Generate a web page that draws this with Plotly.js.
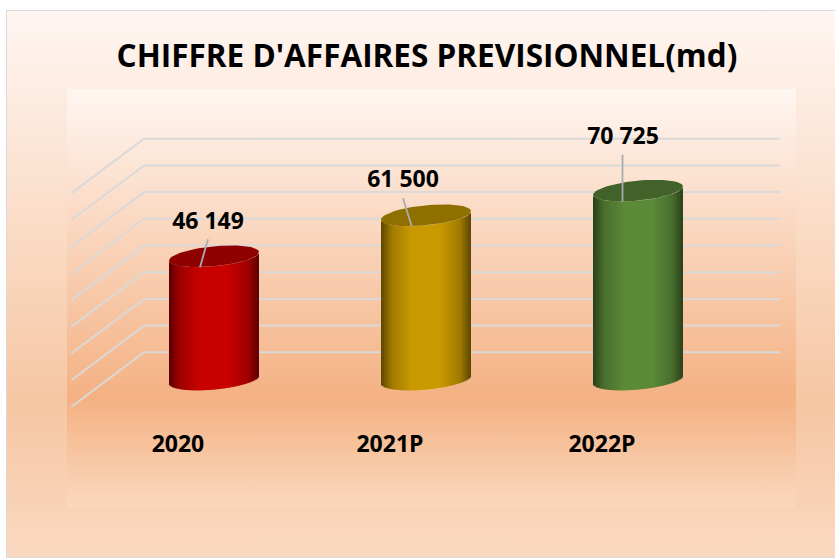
<!DOCTYPE html>
<html>
<head>
<meta charset="utf-8">
<script src="https://cdn.plot.ly/plotly-3.0.1.min.js"></script>
<style>
html,body{margin:0;padding:0;background:#fff;overflow:hidden;width:835px;height:559px}
#frame{position:absolute;left:6px;top:10px;width:835px;height:546px;border:1px solid #d9d9d9;
background:linear-gradient(180deg,#fff6f2 0%,#f6c6a2 72%,#fad9c1 100%)}
#panel{position:absolute;left:67px;top:89px;width:729px;height:418px;
background:linear-gradient(180deg,#fff6f1 0%,#f4b183 74%,#fad8bd 100%)}
#chart{position:absolute;left:0;top:0;width:835px;height:559px}
</style>
</head>
<body>
<div id="frame"></div>
<div id="panel"></div>
<div id="chart"></div>
<script>
var categories = ['2020', '2021P', '2022P'];
var values = [46149, 61500, 70725];
var gridTicks = [0, 10000, 20000, 30000, 40000, 50000, 60000, 70000, 80000];
var titleText = "CHIFFRE D'AFFAIRES PREVISIONNEL(md)";
var midColors = [[200, 0, 0], [201, 154, 0], [91, 138, 56]];
var capColors = ['#8f0000', '#8f6f00', '#41632a'];

// scale helpers: px per data unit
var pxY = 2.67 / 1000, pxX = 212;
var positions = categories.map(function (c, i) { return i; });
var depth = 10190;
var halfW = 45 / pxX, tilt = 4.2 / pxY, minor = 10 / pxY;

function frontEdge(u) { return tilt * u - minor * Math.sqrt(Math.max(0, 1 - u * u)); }
function shade(rgb, t) {
  var d = Math.abs(2 * t - 1);
  var f = d < 0.3 ? 1 : d < 0.75 ? 1 - (d - 0.3) / 0.45 * 0.2 : 0.8 - (d - 0.75) / 0.25 * 0.34;
  return 'rgb(' + rgb.map(function (c) { return Math.round(c * f); }).join(',') + ')';
}

var traces = [];
var N = 60;
for (var k = 0; k < N; k++) {
  (function (k) {
    var t = (k + 0.5) / N, u = 2 * t - 1, w = 2 * halfW / N;
    var e = frontEdge(u);
    var wScale = k === N - 1 ? 1 : 1.5;
    traces.push({
      type: 'bar', x: positions, base: values.map(function () { return e; }),
      y: values.map(function (v) { return v; }),
      width: values.map(function () { return w * wScale; }),
      offset: values.map(function () { return -halfW + k * w; }),
      marker: { color: midColors.map(function (c) { return shade(c, t); }), line: { width: 0 } },
      hoverinfo: 'skip', showlegend: false
    });
  })(k);
}
// top caps
values.forEach(function (v, i) {
  var xs = [], ys = [];
  for (var a = 0; a <= 72; a++) {
    var th = a / 72 * 2 * Math.PI;
    xs.push(positions[i] + halfW * Math.cos(th));
    ys.push(v + tilt * Math.cos(th) + minor * Math.sin(th));
  }
  traces.push({ type: 'scatter', mode: 'lines', x: xs, y: ys, fill: 'toself', fillcolor: capColors[i],
    line: { width: 0, color: capColors[i] }, hoverinfo: 'skip', showlegend: false });
});
// leader lines
var leadDX = [[-14, -6], [-14.3, -23], [-15.5, -15.5]];
var leadDY = [[-11, 17], [-11, 17], [-11, 36]];
values.forEach(function (v, i) {
  traces.push({ type: 'scatter', mode: 'lines',
    x: leadDX[i].map(function (d) { return positions[i] + d / pxX; }),
    y: leadDY[i].map(function (d) { return v + d / pxY; }),
    line: { color: '#a9adb1', width: 1.8 }, hoverinfo: 'skip', showlegend: false });
});
// data labels
var labelDX = [-6, -23, -15], labelDY = [33, 34, 52];
traces.push({ type: 'scatter', mode: 'text',
  x: values.map(function (v, i) { return positions[i] + labelDX[i] / pxX; }),
  y: values.map(function (v, i) { return v + labelDY[i] / pxY; }),
  text: values.map(function (v) { return String(v).replace(/\B(?=(\d{3})+$)/g, ' '); }),
  textposition: 'middle center',
  textfont: { family: 'Open Sans, sans-serif', size: 23, color: '#000', weight: 700 },
  hoverinfo: 'skip', showlegend: false });

var backL = -0.33, frontL = -0.672, backR = 2.67;
var shapes = gridTicks.map(function (g) {
  return { type: 'path', xref: 'x', yref: 'y', layer: 'below',
    path: 'M ' + frontL + ' ' + (g - depth) + ' L ' + backL + ' ' + (g + depth) + ' L ' + backR + ' ' + (g + depth),
    line: { color: '#d9d9d9', width: 2 } };
});

var layout = {
  width: 835, height: 559,
  margin: { l: 67, r: 39, t: 89, b: 131, pad: 0 },
  paper_bgcolor: 'rgba(0,0,0,0)', plot_bgcolor: 'rgba(0,0,0,0)',
  barmode: 'overlay', showlegend: false,
  title: { text: titleText, x: 427 / 835, xanchor: 'center', y: 1 - 56 / 559, yanchor: 'middle',
    font: { family: 'Open Sans, sans-serif', size: 31.5, color: '#000', weight: 700 } },
  xaxis: { range: [-0.6934, 2.7453], tickmode: 'array',
    tickvals: positions.map(function (p) { return p - 0.17; }), ticktext: categories,
    showgrid: false, zeroline: false, showline: false, ticks: '',
    tickfont: { family: 'Open Sans, sans-serif', size: 23, color: '#000', weight: 700 } },
  yaxis: { range: [(379.5 - 428) / pxY, (379.5 - 89) / pxY], visible: false, showgrid: false, zeroline: false },
  shapes: shapes
};
Plotly.newPlot('chart', traces, layout, { displayModeBar: false, staticPlot: true });
</script>
</body>
</html>
